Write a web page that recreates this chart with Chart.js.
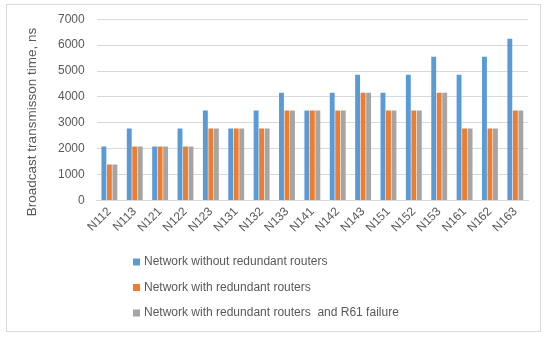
<!DOCTYPE html>
<html>
<head>
<meta charset="utf-8">
<script src="https://cdn.jsdelivr.net/npm/chart.js@4"></script>
<style>
  html, body { margin: 0; padding: 0; background: #fff; }
  #wrap { width: 550px; height: 337px; }
</style>
</head>
<body>
<div id="wrap"><canvas id="chart" width="550" height="337"></canvas></div>
<script>
  const nodes = ['N112', 'N113', 'N121', 'N122', 'N123', 'N131', 'N132', 'N133', 'N141',
    'N142', 'N143', 'N151', 'N152', 'N153', 'N161', 'N162', 'N163'];
  const withoutRedundant = [2083, 2777, 2083, 2777, 3471, 2777, 3471, 4165, 3471,
    4165, 4859, 4165, 4859, 5553, 4859, 5553, 6248];
  const withRedundant = [1388, 2083, 2083, 2083, 2777, 2777, 2777, 3471, 3471,
    3471, 4165, 3471, 3471, 4165, 2777, 2777, 3471];
  const withR61Failure = [1388, 2083, 2083, 2083, 2777, 2777, 2777, 3471, 3471,
    3471, 4165, 3471, 3471, 4165, 2777, 2777, 3471];
  const seriesNames = ['Network without redundant routers', 'Network with redundant routers',
    'Network with redundant routers  and R61 failure'];
  const yTitle = 'Broadcast transmisson time, ns';
  const colors = ['#5B9BD5', '#ED7D31', '#A5A5A5'];
  const textColor = '#595959';
  const fontFamily = '"Liberation Sans", Arial, sans-serif';

  // border round the whole chart, the y title, and an Excel-like vertical legend
  const frameAndLegend = {
    id: 'frameAndLegend',
    beforeDraw(chart) {
      const c = chart.ctx;
      c.save();
      c.fillStyle = '#fff';
      c.fillRect(0, 0, chart.width, chart.height);
      c.strokeStyle = '#D9D9D9';
      c.lineWidth = 1;
      c.strokeRect(6.5, 4.5, 534, 327);
      c.restore();
    },
    afterDraw(chart) {
      const c = chart.ctx;
      c.save();
      c.fillStyle = textColor;
      c.font = '13.5px ' + fontFamily;
      c.textAlign = 'center';
      c.textBaseline = 'middle';
      c.translate(32, 122);
      c.rotate(-Math.PI / 2);
      c.fillText(yTitle, 0, 0);
      c.restore();

      c.save();
      c.font = '12px ' + fontFamily;
      c.textBaseline = 'middle';
      chart.data.datasets.forEach((ds, i) => {
        const y = 262 + i * 25.5;
        c.fillStyle = ds.backgroundColor;
        c.fillRect(133, y - 3.5, 7, 7);
        c.fillStyle = textColor;
        c.fillText(ds.label, 144, y);
      });
      c.restore();
    }
  };

  new Chart(document.getElementById('chart'), {
    type: 'bar',
    data: {
      labels: nodes,
      datasets: [
        { label: seriesNames[0], data: withoutRedundant, backgroundColor: colors[0] },
        { label: seriesNames[1], data: withRedundant, backgroundColor: colors[1] },
        { label: seriesNames[2], data: withR61Failure, backgroundColor: colors[2] }
      ]
    },
    options: {
      responsive: false,
      animation: false,
      devicePixelRatio: 1,
      layout: { padding: { top: 15, right: 22, bottom: 98, left: 46 } },
      datasets: { bar: { categoryPercentage: 0.65, barPercentage: 0.89 } },
      plugins: {
        legend: { display: false },
        tooltip: { enabled: false }
      },
      scales: {
        x: {
          grid: { display: false, drawTicks: false },
          border: { color: '#D9D9D9' },
          ticks: {
            color: textColor, font: { family: fontFamily, size: 12 },
            minRotation: 45, maxRotation: 45, padding: 4, autoSkip: false
          }
        },
        y: {
          min: 0, max: 7000,
          grid: { color: '#D9D9D9', drawTicks: false },
          border: { display: false },
          ticks: {
            stepSize: 1000, color: textColor, font: { family: fontFamily, size: 12 }, padding: 12,
            callback: (v) => String(v)
          }
        }
      }
    },
    plugins: [frameAndLegend]
  });
</script>
</body>
</html>
